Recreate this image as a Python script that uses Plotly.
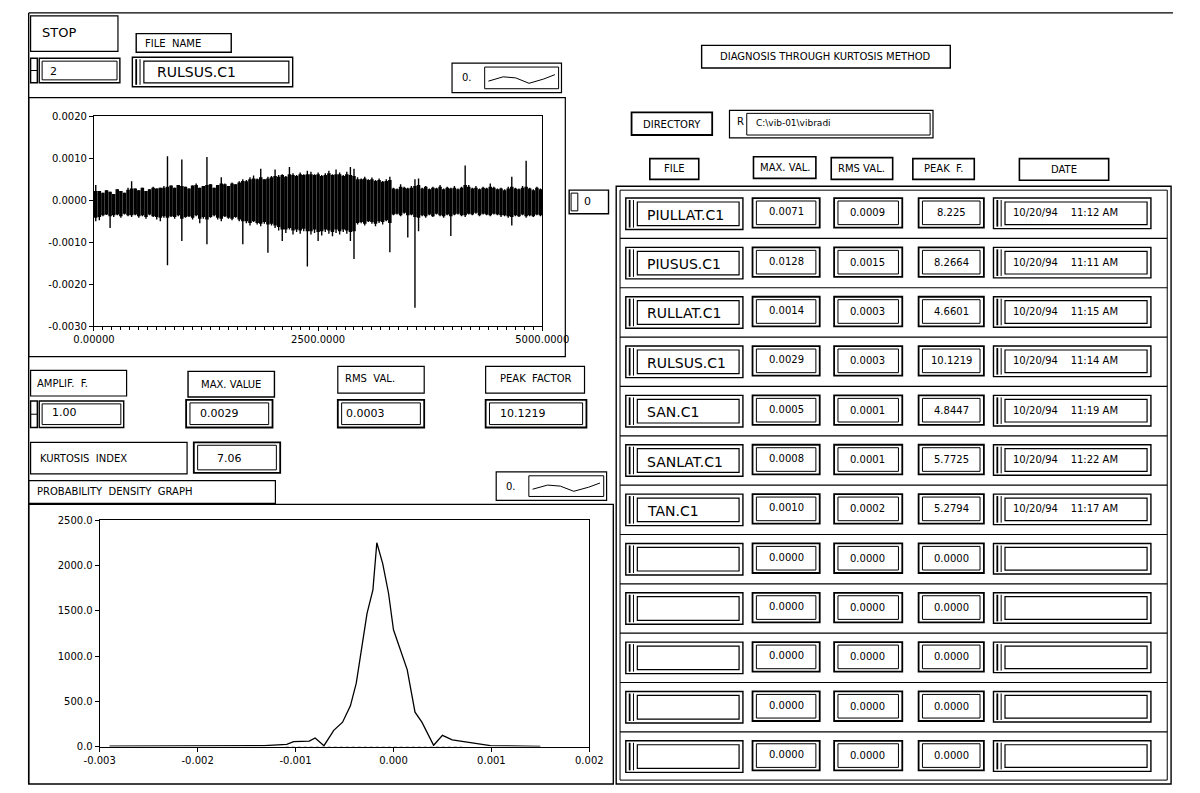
import plotly.graph_objects as go

W, H = 1200, 793
FONT = "DejaVu Sans"
NB = "\u00a0"

# ---------------- data ----------------
# waveform per 40-sample bin (units of 0.001):
# extremes (spikes) and the dense core of the trace
WAVE_BIN = 40
WAVE_HI = [0.36, 0.22, 0.18, 0.24, 0.20, 0.15, 0.26, 0.22, 0.18, 0.30,
           0.45, 0.28, 0.24, 0.30, 0.22, 0.26, 0.32, 0.28, 0.30, 0.34,
           1.05, 0.35, 0.30, 0.36, 0.97, 0.32, 0.28, 0.35, 0.40, 0.30,
           0.34, 1.03, 0.38, 0.30, 0.36, 0.55, 0.40, 0.34, 0.42, 0.38,
           0.45, 0.50, 0.48, 0.55, 0.59, 0.52, 0.75, 0.50, 0.56, 0.58,
           0.73, 0.60, 0.62, 0.58, 0.79, 0.64, 0.60, 0.66, 0.62, 0.70,
           0.68, 0.62, 0.66, 0.60, 0.64, 0.70, 0.62, 0.73, 0.66, 0.60,
           0.68, 0.79, 0.75, 0.55, 0.52, 0.56, 0.50, 0.54, 0.48, 0.52,
           0.46, 0.50, 0.56, 0.30, 0.28, 0.38, 0.32, 0.30, 0.34, 0.50,
           0.52, 0.30, 0.34, 0.28, 0.32, 0.30, 0.36, 0.28, 0.32, 0.30,
           0.34, 0.28, 0.32, 0.83, 0.36, 0.30, 0.34, 0.28, 0.32, 0.30,
           0.40, 0.32, 0.28, 0.30, 0.26, 0.32, 0.56, 0.30, 0.28, 0.34,
           0.94, 0.30, 0.26, 0.32, 0.28]
WAVE_LO = [-0.50, -0.48, -0.38, -0.35, -0.66, -0.40, -0.36, -0.42, -0.34, -0.38,
           -0.40, -0.36, -0.42, -0.38, -0.44, -0.36, -0.40, -0.46, -0.50, -0.42,
           -1.55, -0.40, -0.44, -0.38, -0.97, -0.42, -0.40, -0.46, -0.38, -0.55,
           -0.44, -1.05, -0.42, -0.38, -0.46, -0.50, -0.40, -0.44, -0.48, -0.42,
           -0.50, -1.05, -0.55, -0.60, -0.52, -0.58, -0.62, -0.56, -1.25, -0.60,
           -0.66, -0.72, -0.97, -0.78, -0.70, -0.82, -0.76, -0.80, -0.74, -1.58,
           -0.82, -0.78, -0.97, -0.84, -0.76, -0.80, -0.86, -0.78, -0.82, -0.76,
           -0.80, -0.97, -1.40, -0.58, -0.55, -0.60, -0.52, -0.56, -0.62, -0.54,
           -0.58, -0.50, -1.24, -0.36, -0.34, -0.38, -0.32, -0.89, -0.36, -2.56,
           -0.74, -0.38, -0.42, -0.36, -0.40, -0.34, -0.38, -0.42, -0.36, -0.85,
           -0.36, -0.34, -0.38, -0.40, -0.34, -0.36, -0.32, -0.38, -0.34, -0.36,
           -0.38, -0.34, -0.36, -0.40, -0.38, -0.42, -0.60, -0.38, -0.40, -0.36,
           -0.42, -0.38, -0.40, -0.36, -0.38]
CORE_HI = [0.22, 0.22, 0.18, 0.24, 0.20, 0.15, 0.26, 0.22, 0.18, 0.25,
           0.28, 0.28, 0.24, 0.30, 0.22, 0.26, 0.30, 0.28, 0.30, 0.30,
           0.32, 0.35, 0.30, 0.36, 0.34, 0.32, 0.28, 0.35, 0.36, 0.30,
           0.34, 0.36, 0.38, 0.30, 0.36, 0.40, 0.38, 0.34, 0.40, 0.38,
           0.42, 0.46, 0.45, 0.50, 0.52, 0.50, 0.55, 0.50, 0.52, 0.55,
           0.58, 0.56, 0.60, 0.56, 0.62, 0.60, 0.58, 0.62, 0.60, 0.62,
           0.62, 0.60, 0.62, 0.58, 0.60, 0.64, 0.60, 0.62, 0.62, 0.58,
           0.62, 0.60, 0.58, 0.50, 0.50, 0.52, 0.48, 0.50, 0.46, 0.48,
           0.44, 0.46, 0.48, 0.28, 0.26, 0.32, 0.30, 0.28, 0.30, 0.34,
           0.36, 0.28, 0.32, 0.26, 0.30, 0.28, 0.32, 0.26, 0.30, 0.28,
           0.30, 0.26, 0.30, 0.36, 0.32, 0.28, 0.30, 0.26, 0.30, 0.28,
           0.32, 0.30, 0.26, 0.28, 0.24, 0.28, 0.32, 0.28, 0.26, 0.30,
           0.32, 0.28, 0.24, 0.30, 0.26]
CORE_LO = [-0.42, -0.40, -0.36, -0.34, -0.38, -0.36, -0.34, -0.38, -0.32, -0.36,
           -0.36, -0.34, -0.38, -0.36, -0.40, -0.34, -0.38, -0.40, -0.42, -0.38,
           -0.42, -0.38, -0.40, -0.36, -0.44, -0.40, -0.38, -0.42, -0.36, -0.44,
           -0.40, -0.46, -0.40, -0.36, -0.42, -0.44, -0.38, -0.42, -0.44, -0.40,
           -0.46, -0.50, -0.50, -0.54, -0.50, -0.54, -0.56, -0.52, -0.58, -0.56,
           -0.60, -0.64, -0.70, -0.70, -0.66, -0.72, -0.70, -0.72, -0.68, -0.74,
           -0.74, -0.70, -0.76, -0.74, -0.70, -0.72, -0.76, -0.70, -0.74, -0.70,
           -0.72, -0.76, -0.74, -0.54, -0.52, -0.56, -0.50, -0.52, -0.56, -0.50,
           -0.52, -0.48, -0.54, -0.34, -0.32, -0.36, -0.30, -0.36, -0.34, -0.40,
           -0.42, -0.36, -0.38, -0.34, -0.38, -0.32, -0.36, -0.38, -0.34, -0.38,
           -0.34, -0.32, -0.36, -0.36, -0.32, -0.34, -0.30, -0.36, -0.32, -0.34,
           -0.36, -0.32, -0.34, -0.36, -0.36, -0.38, -0.40, -0.36, -0.38, -0.34,
           -0.38, -0.36, -0.38, -0.34, -0.36]
WAVE_UNIT = 0.001
WAVE_YTICKS = [0.002, 0.001, 0.0, -0.001, -0.002, -0.003]
WAVE_YTEXT = ["0.0020", "0.0010", "0.0000", "-0.0010", "-0.0020", "-0.0030"]
WAVE_XTICKS = [0, 2500, 5000]
WAVE_XTEXT = ["0.00000", "2500.0000", "5000.0000"]

# probability density curve
PDF_X = [-0.0029, -0.0024, -0.0019, -0.00132, -0.00109, -0.00102, -0.00086, -0.0008,
         -0.00071, -0.00061, -0.00052, -0.00044, -0.00038, -0.00032, -0.00027, -0.00021,
         -0.00017, -0.00011, -0.00005, 0.0, 0.00006, 0.00014, 0.00022, 0.00029,
         0.00041, 0.0005, 0.0006, 0.00083, 0.00099, 0.0015]
PDF_Y = [5, 8, 8, 12, 25, 55, 60, 95,
         10, 180, 270, 450, 700, 1100, 1470, 1730,
         2250, 2020, 1690, 1290, 1110, 850, 380, 270,
         15, 125, 75, 35, 12, 3]
PDF_BASE_X = [-0.0011, 0.0007]
PDF_BASE_Y = [0, 0]
PDF_YTICKS = [0, 500, 1000, 1500, 2000, 2500]
PDF_YTEXT = ["0.0", "500.0", "1000.0", "1500.0", "2000.0", "2500.0"]
PDF_XTICKS = [-0.003, -0.002, -0.001, 0.0, 0.001, 0.002]
PDF_XTEXT = ["-0.003", "-0.002", "-0.001", "0.000", "0.001", "0.002"]

# table
FILES = ["PIULLAT.C1", "PIUSUS.C1", "RULLAT.C1", "RULSUS.C1", "SAN.C1", "SANLAT.C1",
         "TAN.C1", "", "", "", "", ""]
MAXV = ["0.0071", "0.0128", "0.0014", "0.0029", "0.0005", "0.0008", "0.0010",
        "0.0000", "0.0000", "0.0000", "0.0000", "0.0000"]
RMSV = ["0.0009", "0.0015", "0.0003", "0.0003", "0.0001", "0.0001", "0.0002",
        "0.0000", "0.0000", "0.0000", "0.0000", "0.0000"]
PEAKF = ["8.225", "8.2664", "4.6601", "10.1219", "4.8447", "5.7725", "5.2794",
         "0.0000", "0.0000", "0.0000", "0.0000", "0.0000"]
DATES = ["10/20/94", "10/20/94", "10/20/94", "10/20/94", "10/20/94", "10/20/94",
         "10/20/94", "", "", "", "", ""]
TIMES = ["11:12 AM", "11:11 AM", "11:15 AM", "11:14 AM", "11:19 AM", "11:22 AM",
         "11:17 AM", "", "", "", "", ""]

# front-panel values
FILE_NAME = "RULSUS.C1"
INDEX_VAL = "2"
AMPLIF = "1.00"
MAX_VALUE = "0.0029"
RMS_VALUE = "0.0003"
PEAK_FACTOR = "10.1219"
KURTOSIS = "7.06"
DIRECTORY = "C:\\vib-01\\vibradi"

# ---------------- helpers ----------------
def X(px):
    return px / W


def Y(py):
    return 1 - py / H


shapes = []
annotations = []


def box(x0, y0, x1, y1, w=1.0, color="black"):
    shapes.append(dict(type="rect", xref="paper", yref="paper",
                       x0=X(x0), x1=X(x1), y0=Y(y1), y1=Y(y0),
                       line=dict(color=color, width=w),
                       fillcolor="rgba(0,0,0,0)"))


def line(x0, y0, x1, y1, w=1.0):
    shapes.append(dict(type="line", xref="paper", yref="paper",
                       x0=X(x0), x1=X(x1), y0=Y(y0), y1=Y(y1),
                       line=dict(color="black", width=w)))


def text(x, y, s, size=9, anchor="left"):
    annotations.append(dict(xref="paper", yref="paper", x=X(x), y=Y(y), text=s,
                            showarrow=False, xanchor=anchor, yanchor="middle",
                            font=dict(family=FONT, size=size, color="black")))


def indicator(x0, y0, x1, y1):
    box(x0, y0, x1, y1, 1.8)
    box(x0 + 4, y0 + 3, x1 - 4, y1 - 3, 1.0)


def string_ctrl(x0, y0, x1, y1):
    box(x0, y0, x1, y1, 1.4)
    line(x0 + 4, y0 + 2, x0 + 4, y1 - 2, 1.8)
    line(x0 + 8, y0 + 2, x0 + 8, y1 - 2, 1.0)
    box(x0 + 12, y0 + 4, x1 - 4, y1 - 4, 1.2)


def numeric_ctrl(x0, y0, x1, y1):
    box(x0, y0, x0 + 7, y1, 1.4)
    line(x0, (y0 + y1) / 2, x0 + 7, (y0 + y1) / 2, 1.0)
    box(x0 + 9, y0, x1, y1, 1.4)
    box(x0 + 12, y0 + 3, x1 - 3, y1 - 3, 1.0)


def mini_graph(x0, y0, x1, y1):
    box(x0, y0, x1, y1, 1.2)
    text(x0 + 8, (y0 + y1) / 2, "0.", 10)
    gx0, gy0, gx1, gy1 = x0 + 34, y0 + 4, x1 - 3, y1 - 4
    box(gx0, gy0, gx1, gy1, 1.0)
    gw, gh = gx1 - gx0, gy1 - gy0
    pts = [(0.05, 0.65), (0.25, 0.45), (0.42, 0.5), (0.6, 0.75), (0.8, 0.55), (0.95, 0.35)]
    path = "M " + " L ".join(f"{X(gx0 + a * gw):.5f},{Y(gy0 + b * gh):.5f}" for a, b in pts)
    shapes.append(dict(type="path", xref="paper", yref="paper", path=path,
                       line=dict(color="black", width=1)))


LBL = 10

# ---------------- panel frame ----------------
line(8, 7, 1200, 7, 1.2)
line(8, 7, 8, 790, 1.4)

# top-left controls
box(10, 10, 101, 46, 1.2)
text(20, 27, "STOP", 13)
box(120, 28, 219, 47, 1.4)
text(127, 38, "FILE" + NB * 2 + "NAME", LBL)
numeric_ctrl(10, 53, 103, 78)
text(28, 66, INDEX_VAL, 11)
string_ctrl(116, 52, 283, 82)
text(140, 67, FILE_NAME, 14)
mini_graph(449, 58, 563, 88)

# waveform graph frame
box(8, 93, 567, 356, 1.2)
box(571, 187, 612, 211, 1.4)
box(573, 190, 580, 208, 1.0)
text(584, 199, "0", 11)

# amplitude row
box(10, 370, 110, 396, 1.2)
text(15, 383, "AMPLIF." + NB * 2 + "F.", LBL)
numeric_ctrl(10, 401, 107, 428)
text(30, 413, AMPLIF, 11)

box(174, 371, 264, 397, 1.4)
text(219, 384, "MAX. VALUE", LBL, "center")
indicator(172, 400, 262, 428)
text(184, 414, MAX_VALUE, 11)

box(330, 366, 420, 393, 1.2)
text(335, 378, "RMS" + NB * 2 + "VAL.", LBL)
indicator(330, 400, 420, 428)
text(336, 414, RMS_VALUE, 11)

box(484, 366, 587, 393, 1.2)
text(536, 378, "PEAK" + NB * 2 + "FACTOR", LBL, "center")
indicator(484, 400, 589, 428)
text(497, 414, PEAK_FACTOR, 11)

box(10, 443, 173, 475, 1.2)
text(18, 459, "KURTOSIS" + NB * 2 + "INDEX", LBL)
indicator(180, 443, 270, 474)
text(202, 459, KURTOSIS, 11)

box(8, 482, 265, 505, 1.2)
text(15, 493, "PROBABILITY" + NB * 2 + "DENSITY" + NB * 2 + "GRAPH", LBL)
mini_graph(495, 473, 610, 502)

# pdf graph frame
box(8, 506, 617, 790, 1.4)

# right side
box(709, 40, 968, 63, 1.4)
text(838, 51, "DIAGNOSIS THROUGH KURTOSIS METHOD", LBL, "center")
box(636, 108, 720, 131, 1.8)
text(678, 120, "DIRECTORY", LBL, "center")
box(738, 106, 950, 134, 1.2)
text(744, 117, "R", 10)
box(756, 109, 947, 131, 1.0)
text(764, 119, DIRECTORY, 9)

for (x0, y0, x1, y1, s) in [(655, 155, 706, 176, "FILE"), (763, 153, 828, 175, "MAX. VAL."),
                            (844, 154, 908, 176, "RMS VAL."), (929, 155, 993, 176, "PEAK" + NB * 2 + "F."),
                            (1040, 155, 1133, 177, "DATE")]:
    box(x0, y0, x1, y1, 1.6)
    text((x0 + x1) / 2, (y0 + y1) / 2, s, LBL, "center")

box(620, 183, 1198, 790, 1.4)
box(624, 187, 1194, 786, 1.0)
for i in range(len(FILES)):
    c = 211 + 50.1 * i
    if i < len(FILES) - 1:
        line(624, c + 25, 1194, c + 25, 1.2)
    string_ctrl(630, c - 16, 752, c + 16)
    text(650, c + 1, FILES[i], 14)
    indicator(762, c - 16, 832, c + 14)
    text(797, c - 2, MAXV[i], 10, "center")
    indicator(847, c - 16, 918, c + 14)
    text(882, c - 1, RMSV[i], 10, "center")
    indicator(935, c - 16, 1003, c + 14)
    text(969, c - 1, PEAKF[i], 10, "center")
    string_ctrl(1013, c - 16, 1177, c + 15)
    if DATES[i]:
        text(1031, c - 1, DATES[i] + NB * 4 + TIMES[i], 10)

# ---------------- traces ----------------
def strokes(hi, lo):
    xs, ys = [], []
    for k in range(len(hi)):
        s = WAVE_BIN * k + WAVE_BIN / 2
        xs += [s, s, None]
        ys += [hi[k] * WAVE_UNIT, lo[k] * WAVE_UNIT, None]
    return xs, ys


fig = go.Figure()
sx, sy = strokes(WAVE_HI, WAVE_LO)
fig.add_trace(go.Scatter(x=sx, y=sy, mode="lines", line=dict(color="black", width=1.4),
                         connectgaps=False, xaxis="x", yaxis="y", showlegend=False,
                         hoverinfo="skip"))
cx, cy = strokes(CORE_HI, CORE_LO)
fig.add_trace(go.Scatter(x=cx, y=cy, mode="lines", line=dict(color="black", width=3.5),
                         connectgaps=False, xaxis="x", yaxis="y", showlegend=False,
                         hoverinfo="skip"))
fig.add_trace(go.Scatter(x=PDF_BASE_X, y=PDF_BASE_Y, mode="lines",
                         line=dict(color="#888888", width=1, dash="dot"),
                         xaxis="x2", yaxis="y2", showlegend=False, hoverinfo="skip"))
fig.add_trace(go.Scatter(x=PDF_X, y=PDF_Y, mode="lines", line=dict(color="black", width=1.3),
                         xaxis="x2", yaxis="y2", showlegend=False))

axis_common = dict(showline=True, linecolor="black", linewidth=1, mirror=True,
                   showgrid=False, zeroline=False, ticks="outside", ticklen=4,
                   tickcolor="black", tickfont=dict(family=FONT, size=10, color="black"))

fig.update_layout(
    width=W, height=H, autosize=False,
    margin=dict(l=0, r=0, t=0, b=0),
    paper_bgcolor="white", plot_bgcolor="white",
    xaxis=dict(domain=[X(76), X(543)], range=[0, 5000], tickmode="array",
               tickvals=WAVE_XTICKS, ticktext=WAVE_XTEXT, anchor="y",
               minor=dict(ticks="outside", dtick=100, ticklen=3, tickcolor="black"),
               **axis_common),
    yaxis=dict(domain=[Y(325), Y(112)], range=[-0.003, 0.002], tickmode="array",
               tickvals=WAVE_YTICKS, ticktext=WAVE_YTEXT, anchor="x", **axis_common),
    xaxis2=dict(domain=[X(82), X(592)], range=[-0.003, 0.002], tickmode="array",
                tickvals=PDF_XTICKS, ticktext=PDF_XTEXT, anchor="y2", **axis_common),
    yaxis2=dict(domain=[Y(752), Y(522)], range=[0, 2500], tickmode="array",
                tickvals=PDF_YTICKS, ticktext=PDF_YTEXT, anchor="x2", **axis_common),
    shapes=shapes,
    annotations=annotations,
)

fig.write_html("out.html", config={"displayModeBar": False},
               post_script="document.body.style.margin='0';document.body.style.overflow='hidden';")
